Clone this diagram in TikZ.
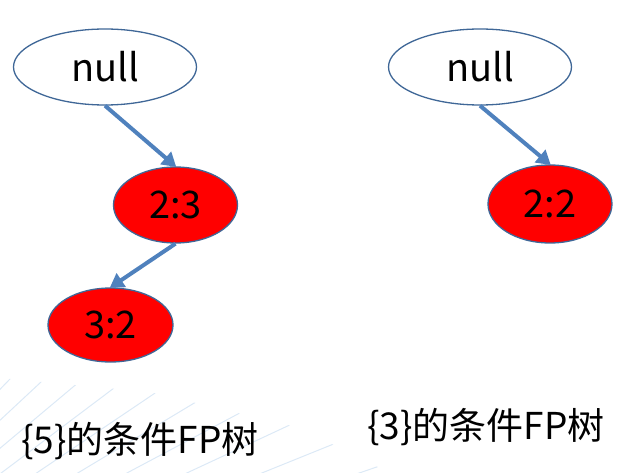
\documentclass[tikz,border=0pt]{standalone}
\usepackage{fontspec}
\setmainfont{Noto Sans CJK SC}
\usetikzlibrary{shapes.geometric,arrows.meta}
\definecolor{edgeblue}{HTML}{4F81BD}
\definecolor{rimblue}{HTML}{3F6797}
\definecolor{bgline}{HTML}{DCE9F6}
\tikzset{
  treenode/.style={ellipse,draw=rimblue,line width=1.3pt,inner sep=0pt,font=\fontsize{38}{44}\selectfont},
  rootnode/.style={treenode,fill=white,minimum width=183pt,minimum height=76pt},
  itemnode/.style={treenode,fill=red,minimum width=124pt,minimum height=76pt},
  treeedge/.style={draw=edgeblue,line width=4pt,-{Triangle[length=14pt,width=16pt]},shorten >=-1pt},
  caption/.style={font=\fontsize{37}{44}\selectfont,inner sep=0pt}
}
\begin{document}
\begin{tikzpicture}[x=1pt,y=-1pt]
\useasboundingbox (0,0) rectangle (632,473);
% faint background lines
\begin{scope}
\clip (0,378) -- (150,392) -- (300,428) -- (390,473) -- (0,473) -- cycle;
\foreach \a in {16,19,...,50}{
  \draw[bgline,line width=1pt] (-300,700) -- ++({cos(\a)*1000},{-sin(\a)*1000});
}
\end{scope}
% left tree
\node[rootnode] (n1) at (105,67) {null};
\node[itemnode] (a23) at (175.5,205) {2:3};
\node[itemnode,minimum width=125pt,minimum height=74pt] (a32) at (110.5,325) {3:2};
\draw[treeedge] (n1.south) -- (a23.north);
\draw[treeedge] (a23.south) -- (a32.north);
% right tree
\node[rootnode] (n2) at (480,67) {null};
\node[itemnode,minimum height=78pt] (b22) at (550,204) {2:2};
\draw[treeedge] (n2.south) -- (b22.north);
% captions
\node[caption] (c1) at (140,441) {\{5\}的条件FP树};
\node[caption] (c2) at (486,427) {\{3\}的条件FP树};
\end{tikzpicture}
\end{document}
